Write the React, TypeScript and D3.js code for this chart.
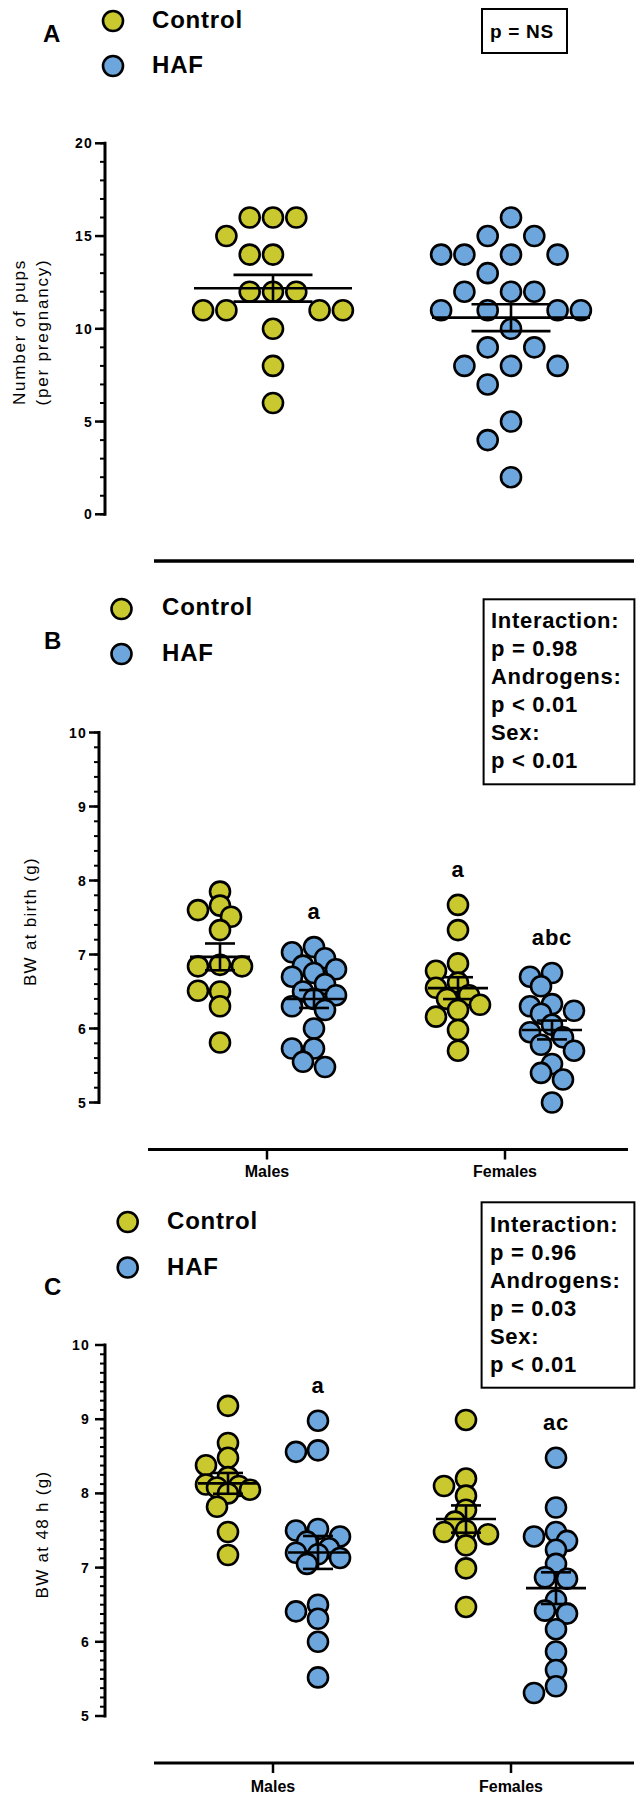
import React from "react";
import * as d3 from "d3";

// ---------- DATA ----------
// Panel A: number of pups per pregnancy
const pupsControl = [16, 16, 16, 15, 14, 14, 12, 12, 12, 11, 11, 11, 11, 10, 8, 6];
const pupsHAF = [16, 15, 15, 14, 14, 14, 14, 13, 12, 12, 12, 11, 11, 11, 11, 10, 9, 9, 8, 8, 8, 7, 5, 4, 2];
const pupsTicks = [0, 5, 10, 15, 20];

// Panel B: BW at birth (g)
const birthMalesControl = [7.85, 7.66, 7.6, 7.51, 7.33, 6.86, 6.84, 6.84, 6.5, 6.51, 6.3, 5.81];
const birthMalesHAF = [7.1, 7.03, 6.95, 6.85, 6.8, 6.75, 6.7, 6.6, 6.5, 6.45, 6.4, 6.3, 6.25, 6.0, 5.73, 5.73, 5.55, 5.48];
const birthFemalesControl = [7.67, 7.33, 6.88, 6.78, 6.62, 6.55, 6.45, 6.4, 6.32, 6.25, 6.16, 5.98, 5.7];
const birthFemalesHAF = [6.75, 6.7, 6.57, 6.33, 6.3, 6.24, 6.2, 6.05, 5.95, 5.88, 5.78, 5.7, 5.52, 5.4, 5.31, 5.0];

// Panel C: BW at 48 h (g)
const h48MalesControl = [9.18, 8.68, 8.48, 8.38, 8.22, 8.12, 8.1, 8.08, 8.05, 8.0, 7.82, 7.48, 7.17];
const h48MalesHAF = [8.98, 8.58, 8.56, 7.52, 7.5, 7.42, 7.35, 7.26, 7.2, 7.18, 7.13, 7.05, 6.5, 6.41, 6.31, 6.0, 5.52];
const h48FemalesControl = [8.99, 8.2, 8.1, 7.97, 7.78, 7.62, 7.5, 7.48, 7.45, 7.3, 6.99, 6.47];
const h48FemalesHAF = [8.48, 7.81, 7.48, 7.42, 7.36, 7.24, 7.05, 6.87, 6.85, 6.56, 6.42, 6.38, 6.17, 5.87, 5.62, 5.4, 5.31];

const bwTicks = [5, 6, 7, 8, 9, 10];
const groups = ["Control", "HAF"];
const sexes = ["Males", "Females"];
const statsA = ["p = NS"];
const statsB = ["Interaction:", "p = 0.98", "Androgens:", "p < 0.01", "Sex:", "p < 0.01"];
const statsC = ["Interaction:", "p = 0.96", "Androgens:", "p = 0.03", "Sex:", "p < 0.01"];
// significance letters: [Males Control, Males HAF, Females Control, Females HAF]
const lettersB = ["", "a", "a", "abc"];
const lettersC = ["", "a", "", "ac"];

// ---------- STYLE ----------
const FONT = "'Liberation Sans', Arial, Helvetica, sans-serif";
const FILLS: Record<string, string> = { Control: "#c9c82e", HAF: "#6ca6dc" };
const R = 10;
const SW = 2.6;

type Pt = { x: number; y: number; v: number };

function swarm(values: number[], y: (v: number) => number, cx: number, step: number, maxK: number, minDist: number): Pt[] {
  const placed: Pt[] = [];
  const ks = [0];
  for (let k = 1; k <= maxK; k++) ks.push(-k, k);
  values.forEach((v) => {
    const py = y(v);
    let best = cx;
    let bestD = -1;
    for (const k of ks) {
      const px = cx + k * step;
      let md = Infinity;
      for (const p of placed) md = Math.min(md, Math.hypot(p.x - px, p.y - py));
      if (md >= minDist) {
        best = px;
        bestD = md;
        break;
      }
      if (md > bestD) {
        bestD = md;
        best = px;
      }
    }
    placed.push({ x: best, y: py, v });
  });
  return placed;
}

type Column = { values: number[]; cx: number; group: string; letter?: string };

function YAxis({ y, axisX, ticks, minorStep, labelX }: any) {
  const [d0, d1] = y.domain();
  const minors = d3.range(d0, d1 + minorStep / 2, minorStep);
  return (
    <g>
      <line x1={axisX} x2={axisX} y1={y(d0) + 1.5} y2={y(d1) - 1.5} stroke="#000" strokeWidth={3} />
      {minors.map((m: number, i: number) => (
        <line key={"m" + i} x1={axisX - 5} x2={axisX} y1={y(m)} y2={y(m)} stroke="#000" strokeWidth={2} />
      ))}
      {ticks.map((t: number) => (
        <g key={t}>
          <line x1={axisX - 10} x2={axisX} y1={y(t)} y2={y(t)} stroke="#000" strokeWidth={2.5} />
          <text x={labelX} y={y(t)} dy="0.36em" textAnchor="end" fontFamily={FONT} fontWeight="bold" fontSize={14} letterSpacing={1.2}>
            {t}
          </text>
        </g>
      ))}
    </g>
  );
}

function Dots({ columns, y, step, maxK, minDist, meanHalf, capHalf }: any) {
  const cols = (columns as Column[]).map((c) => {
    const pts = swarm(c.values, y, c.cx, step, maxK, minDist);
    const m = d3.mean(c.values) as number;
    const se = (d3.deviation(c.values) as number) / Math.sqrt(c.values.length);
    return { ...c, pts, m, se };
  });
  return (
    <g>
      {cols.map((c, i) => (
        <g key={"d" + i}>
          {c.pts.map((p, j) => (
            <circle key={j} cx={p.x} cy={p.y} r={R} fill={FILLS[c.group]} stroke="#000" strokeWidth={SW} />
          ))}
        </g>
      ))}
      {cols.map((c, i) => (
        <g key={"s" + i} stroke="#000" strokeWidth={2.6}>
          <line x1={c.cx - meanHalf} x2={c.cx + meanHalf} y1={y(c.m)} y2={y(c.m)} />
          <line x1={c.cx} x2={c.cx} y1={y(c.m - c.se)} y2={y(c.m + c.se)} />
          <line x1={c.cx - capHalf} x2={c.cx + capHalf} y1={y(c.m + c.se)} y2={y(c.m + c.se)} />
          <line x1={c.cx - capHalf} x2={c.cx + capHalf} y1={y(c.m - c.se)} y2={y(c.m - c.se)} />
        </g>
      ))}
      {cols.map((c, i) =>
        c.letter ? (
          <text key={"l" + i} x={c.cx} y={y(d3.max(c.values) as number) - R - 18} textAnchor="middle" fontFamily={FONT} fontWeight="bold" fontSize={22} letterSpacing={0.8}>
            {c.letter}
          </text>
        ) : null
      )}
    </g>
  );
}

function Legend({ cx, cyControl, cyHAF, textX, baseControl, baseHAF }: any) {
  return (
    <g>
      <circle cx={cx} cy={cyControl} r={R} fill={FILLS.Control} stroke="#000" strokeWidth={SW} />
      <circle cx={cx} cy={cyHAF} r={R} fill={FILLS.HAF} stroke="#000" strokeWidth={SW} />
      <text x={textX} y={baseControl} fontFamily={FONT} fontWeight="bold" fontSize={24} letterSpacing={0.8}>
        {groups[0]}
      </text>
      <text x={textX} y={baseHAF} fontFamily={FONT} fontWeight="bold" fontSize={24} letterSpacing={0.8}>
        {groups[1]}
      </text>
    </g>
  );
}

function StatsBox({ x, y, w, h, lines, textX, firstBase, lineGap, fontSize }: any) {
  return (
    <g>
      <rect x={x} y={y} width={w} height={h} fill="#fff" stroke="#000" strokeWidth={2} />
      {(lines as string[]).map((l, i) => (
        <text key={i} x={textX} y={firstBase + i * lineGap} fontFamily={FONT} fontWeight="bold" fontSize={fontSize} letterSpacing={0.7}>
          {l}
        </text>
      ))}
    </g>
  );
}

function PanelLetter({ x, y, t }: any) {
  return (
    <text x={x} y={y} fontFamily={FONT} fontWeight="bold" fontSize={24}>
      {t}
    </text>
  );
}

function PanelA() {
  const y = d3.scaleLinear().domain([0, 20]).range([514.3, 143.3]);
  const x = d3.scalePoint<string>().domain(groups).range([154, 630]).padding(0.5);
  const columns: Column[] = [
    { values: pupsControl, cx: x("Control") as number, group: "Control" },
    { values: pupsHAF, cx: x("HAF") as number, group: "HAF" },
  ];
  return (
    <g>
      <PanelLetter x={43} y={41.5} t="A" />
      <Legend cx={113} cyControl={21} cyHAF={66} textX={152} baseControl={27.5} baseHAF={72.5} />
      <StatsBox x={482} y={9} w={85} h={44} lines={statsA} textX={490} firstBase={38} lineGap={0} fontSize={19} />
      <YAxis y={y} axisX={105} ticks={pupsTicks} minorStep={1} labelX={93} />
      <text transform={`translate(25,332) rotate(-90)`} textAnchor="middle" fontFamily={FONT} fontSize={17} letterSpacing={1.8}>
        Number of pups
      </text>
      <text transform={`translate(48,332) rotate(-90)`} textAnchor="middle" fontFamily={FONT} fontSize={17} letterSpacing={1.8}>
        (per pregnancy)
      </text>
      <line x1={154} x2={634} y1={561} y2={561} stroke="#000" strokeWidth={3.5} />
      <Dots columns={columns} y={y} step={23.3} maxK={3} minDist={22.5} meanHalf={79} capHalf={39.5} />
    </g>
  );
}

function BWPanel({ letter, letterY, legend, stats, y, axisX, labelX, minorStep, xAxisY, xRange, xAxisEnd, subOff, data, letters, yLabel, yLabelX, sexBase }: any) {
  const x = d3.scalePoint<string>().domain(sexes).range(xRange).padding(0.5);
  const sub = d3.scalePoint<string>().domain(groups).range([-subOff, subOff]);
  const columns: Column[] = [];
  sexes.forEach((s, si) => {
    groups.forEach((g, gi) => {
      columns.push({
        values: data[si * 2 + gi],
        cx: (x(s) as number) + (sub(g) as number),
        group: g,
        letter: letters[si * 2 + gi],
      });
    });
  });
  const [d0, d1] = y.domain();
  return (
    <g>
      <PanelLetter x={44} y={letterY} t={letter} />
      <Legend {...legend} />
      <StatsBox {...stats} />
      <YAxis y={y} axisX={axisX} ticks={bwTicks} minorStep={minorStep} labelX={labelX} />
      <text transform={`translate(${yLabelX},${(y(d0) + y(d1)) / 2 + 4}) rotate(-90)`} textAnchor="middle" fontFamily={FONT} fontSize={17} letterSpacing={1.3}>
        {yLabel}
      </text>
      <line x1={xRange[0]} x2={xAxisEnd} y1={xAxisY} y2={xAxisY} stroke="#000" strokeWidth={3} />
      {sexes.map((s) => (
        <g key={s}>
          <line x1={x(s) as number} x2={x(s) as number} y1={xAxisY} y2={xAxisY + 10} stroke="#000" strokeWidth={2.5} />
          <text x={x(s) as number} y={sexBase} textAnchor="middle" fontFamily={FONT} fontWeight="bold" fontSize={16}>
            {s}
          </text>
        </g>
      ))}
      <Dots columns={columns} y={y} step={11} maxK={2} minDist={14} meanHalf={30} capHalf={15} />
    </g>
  );
}

export default function App() {
  const yB = d3.scaleLinear().domain([5, 10]).range([1102.5, 732.5]);
  const yC = d3.scaleLinear().domain([5, 10]).range([1716, 1345]);
  return (
    <svg width={639} height={1800} viewBox="0 0 639 1800" style={{ position: "absolute", left: 0, top: 0, display: "block", background: "#fff" }}>
      <rect x={0} y={0} width={639} height={1800} fill="#fff" />
      <PanelA />
      <BWPanel
        letter="B"
        letterY={649}
        legend={{ cx: 121.5, cyControl: 609, cyHAF: 654, textX: 162, baseControl: 615, baseHAF: 660.5 }}
        stats={{ x: 483.6, y: 599.3, w: 150.8, h: 185, lines: statsB, textX: 491, firstBase: 628.3, lineGap: 28, fontSize: 22 }}
        y={yB}
        axisX={99}
        labelX={87}
        minorStep={0.2}
        xAxisY={1149.5}
        xRange={[148, 624]}
        xAxisEnd={628}
        subOff={47}
        data={[birthMalesControl, birthMalesHAF, birthFemalesControl, birthFemalesHAF]}
        letters={lettersB}
        yLabel="BW at birth (g)"
        yLabelX={36}
        sexBase={1177}
      />
      <BWPanel
        letter="C"
        letterY={1295}
        legend={{ cx: 127.7, cyControl: 1222, cyHAF: 1267.5, textX: 167, baseControl: 1229, baseHAF: 1275 }}
        stats={{ x: 481.6, y: 1202.3, w: 152.8, h: 185.4, lines: statsC, textX: 490, firstBase: 1231.7, lineGap: 28, fontSize: 22 }}
        y={yC}
        axisX={105}
        labelX={90}
        minorStep={0.125}
        xAxisY={1763}
        xRange={[154, 630]}
        xAxisEnd={634}
        subOff={45}
        data={[h48MalesControl, h48MalesHAF, h48FemalesControl, h48FemalesHAF]}
        letters={lettersC}
        yLabel="BW at 48 h (g)"
        yLabelX={48}
        sexBase={1792}
      />
    </svg>
  );
}
